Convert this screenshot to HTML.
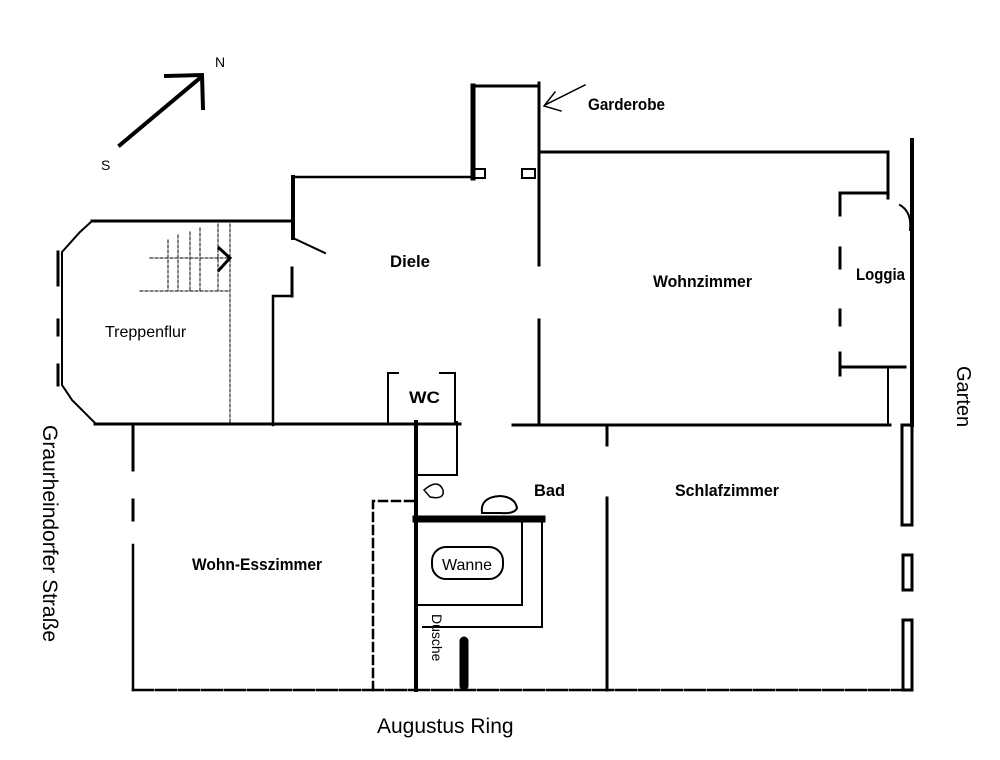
<!DOCTYPE html>
<html><head><meta charset="utf-8"><style>
html,body{margin:0;padding:0;background:#fff;}
svg{display:block;}
.l{font-family:"Liberation Sans Narrow","Liberation Sans",sans-serif;font-weight:bold;font-size:17px;fill:#000;}
.n{font-family:"Liberation Sans",sans-serif;fill:#000;}
</style></head><body>
<svg width="1000" height="760" viewBox="0 0 1000 760" xmlns="http://www.w3.org/2000/svg">
<rect width="1000" height="760" fill="#fff"/>
<g stroke="#000" fill="none" stroke-linecap="square">
<line x1="120" y1="145" x2="200" y2="78" stroke-width="4"/>
<polyline points="166,76 202,75 203,108" stroke-width="4"/>
<line x1="473" y1="86" x2="473" y2="178" stroke-width="5"/>
<line x1="473" y1="86" x2="538" y2="86" stroke-width="3"/>
<line x1="539" y1="83" x2="539" y2="265" stroke-width="3"/>
<line x1="539" y1="320" x2="539" y2="422" stroke-width="3"/>
<rect x="474" y="169" width="11" height="9" stroke-width="2"/>
<rect x="522" y="169" width="13" height="9" stroke-width="2"/>
<polyline points="585,85 545,105" stroke-width="1.5"/>
<polyline points="555,92 544,106 561,111" stroke-width="1.5"/>
<line x1="540" y1="152" x2="888" y2="152" stroke-width="3"/>
<line x1="888" y1="152" x2="888" y2="198" stroke-width="3"/>
<line x1="293" y1="177" x2="473" y2="177" stroke-width="2.5"/>
<line x1="293" y1="177" x2="293" y2="238" stroke-width="4"/>
<line x1="293" y1="238" x2="325" y2="253" stroke-width="2"/>
<line x1="292" y1="268" x2="292" y2="296" stroke-width="3"/>
<polyline points="292,296 273,296 273,425" stroke-width="2.5"/>
<line x1="92" y1="221" x2="293" y2="221" stroke-width="3"/>
<polyline points="92,221 80,232 62,252 62,385 72,400 95,423" stroke-width="2" stroke-dasharray="12,2"/>
<line x1="58" y1="252" x2="58" y2="285" stroke-width="3"/>
<line x1="58" y1="320" x2="58" y2="335" stroke-width="3"/>
<line x1="58" y1="365" x2="58" y2="385" stroke-width="3"/>
<g stroke-width="1" stroke-dasharray="3,2">
<line x1="150" y1="258" x2="228" y2="258"/>
<line x1="140" y1="291" x2="230" y2="291"/>
<line x1="168" y1="240" x2="168" y2="291"/>
<line x1="178" y1="235" x2="178" y2="291"/>
<line x1="190" y1="232" x2="190" y2="291"/>
<line x1="200" y1="228" x2="200" y2="291"/>
<line x1="218" y1="224" x2="218" y2="291"/>
<line x1="230" y1="224" x2="230" y2="425"/>
</g>
<polyline points="219,248 230,258 219,270" stroke-width="3"/>
<line x1="95" y1="424" x2="460" y2="424" stroke-width="3"/>
<line x1="513" y1="425" x2="890" y2="425" stroke-width="3"/>
<line x1="912" y1="140" x2="912" y2="425" stroke-width="4"/>
<path d="M900,205 Q912,212 910,230" stroke-width="2"/>
<line x1="840" y1="193" x2="888" y2="193" stroke-width="3"/>
<line x1="840" y1="193" x2="840" y2="215" stroke-width="3"/>
<line x1="840" y1="248" x2="840" y2="268" stroke-width="3"/>
<line x1="840" y1="310" x2="840" y2="325" stroke-width="3"/>
<line x1="840" y1="353" x2="840" y2="375" stroke-width="3"/>
<line x1="840" y1="367" x2="905" y2="367" stroke-width="3"/>
<line x1="888" y1="367" x2="888" y2="423" stroke-width="2"/>
<rect x="902" y="425" width="10" height="100" stroke-width="3"/>
<rect x="903" y="555" width="9" height="35" stroke-width="3"/>
<rect x="903" y="620" width="9" height="70" stroke-width="3"/>
<polyline points="398,373 388,373 388,422" stroke-width="2"/>
<polyline points="440,373 455,373 455,422" stroke-width="2"/>
<line x1="416" y1="422" x2="416" y2="690" stroke-width="4"/>
<polyline points="416,475 457,475 457,422" stroke-width="2"/>
<path d="M424,490 Q438,478 443,490 Q445,500 430,497 Z" stroke-width="1.5"/>
<polyline points="373,690 373,501 414,501" stroke-width="2.5" stroke-dasharray="8,5"/>
<line x1="416" y1="519" x2="542" y2="519" stroke-width="7"/>
<polyline points="418,605 522,605 522,520" stroke-width="2"/>
<polyline points="542,520 542,627 423,627" stroke-width="2"/>
<path d="M482,513 Q480,497 500,496 Q515,497 517,508 Q515,514 500,513 Z" stroke-width="2"/>
<rect x="432" y="547" width="71" height="32" rx="14" stroke-width="2"/>
<line x1="464" y1="641" x2="464" y2="686" stroke-width="9" stroke-linecap="round"/>
<line x1="607" y1="425" x2="607" y2="445" stroke-width="3"/>
<line x1="607" y1="498" x2="607" y2="690" stroke-width="3"/>
<line x1="133" y1="690" x2="910" y2="690" stroke-width="2.5" stroke-dasharray="20,3"/>
<line x1="133" y1="425" x2="133" y2="470" stroke-width="3"/>
<line x1="133" y1="500" x2="133" y2="520" stroke-width="3"/>
<line x1="133" y1="545" x2="133" y2="690" stroke-width="2.5"/>
</g>
<g>
<text x="215" y="67" class="n" font-size="14">N</text>
<text x="101" y="170" class="n" font-size="14">S</text>
<text x="588" y="110" class="l" textLength="77" lengthAdjust="spacingAndGlyphs">Garderobe</text>
<text x="390" y="267" class="l" textLength="40" lengthAdjust="spacingAndGlyphs">Diele</text>
<text x="653" y="287" class="l" textLength="99" lengthAdjust="spacingAndGlyphs">Wohnzimmer</text>
<text x="856" y="280" class="l" textLength="49" lengthAdjust="spacingAndGlyphs">Loggia</text>
<text x="105" y="337" class="n" font-size="16">Treppenflur</text>
<text x="409" y="403" class="l" font-size="20" textLength="31" lengthAdjust="spacingAndGlyphs">WC</text>
<text x="534" y="496" class="l" textLength="31" lengthAdjust="spacingAndGlyphs">Bad</text>
<text x="675" y="496" class="l" textLength="104" lengthAdjust="spacingAndGlyphs">Schlafzimmer</text>
<text x="192" y="570" class="l" textLength="130" lengthAdjust="spacingAndGlyphs">Wohn-Esszimmer</text>
<text x="467" y="570" class="n" font-size="16" text-anchor="middle">Wanne</text>
<text transform="translate(432,614) rotate(90)" class="n" font-size="14">Dusche</text>
<text transform="translate(957,366) rotate(90)" class="n" font-size="20">Garten</text>
<text transform="translate(43,425) rotate(90)" class="n" font-size="21">Graurheindorfer Straße</text>
<text x="377" y="733" class="n" font-size="21">Augustus Ring</text>
</g>
</svg>
</body></html>
